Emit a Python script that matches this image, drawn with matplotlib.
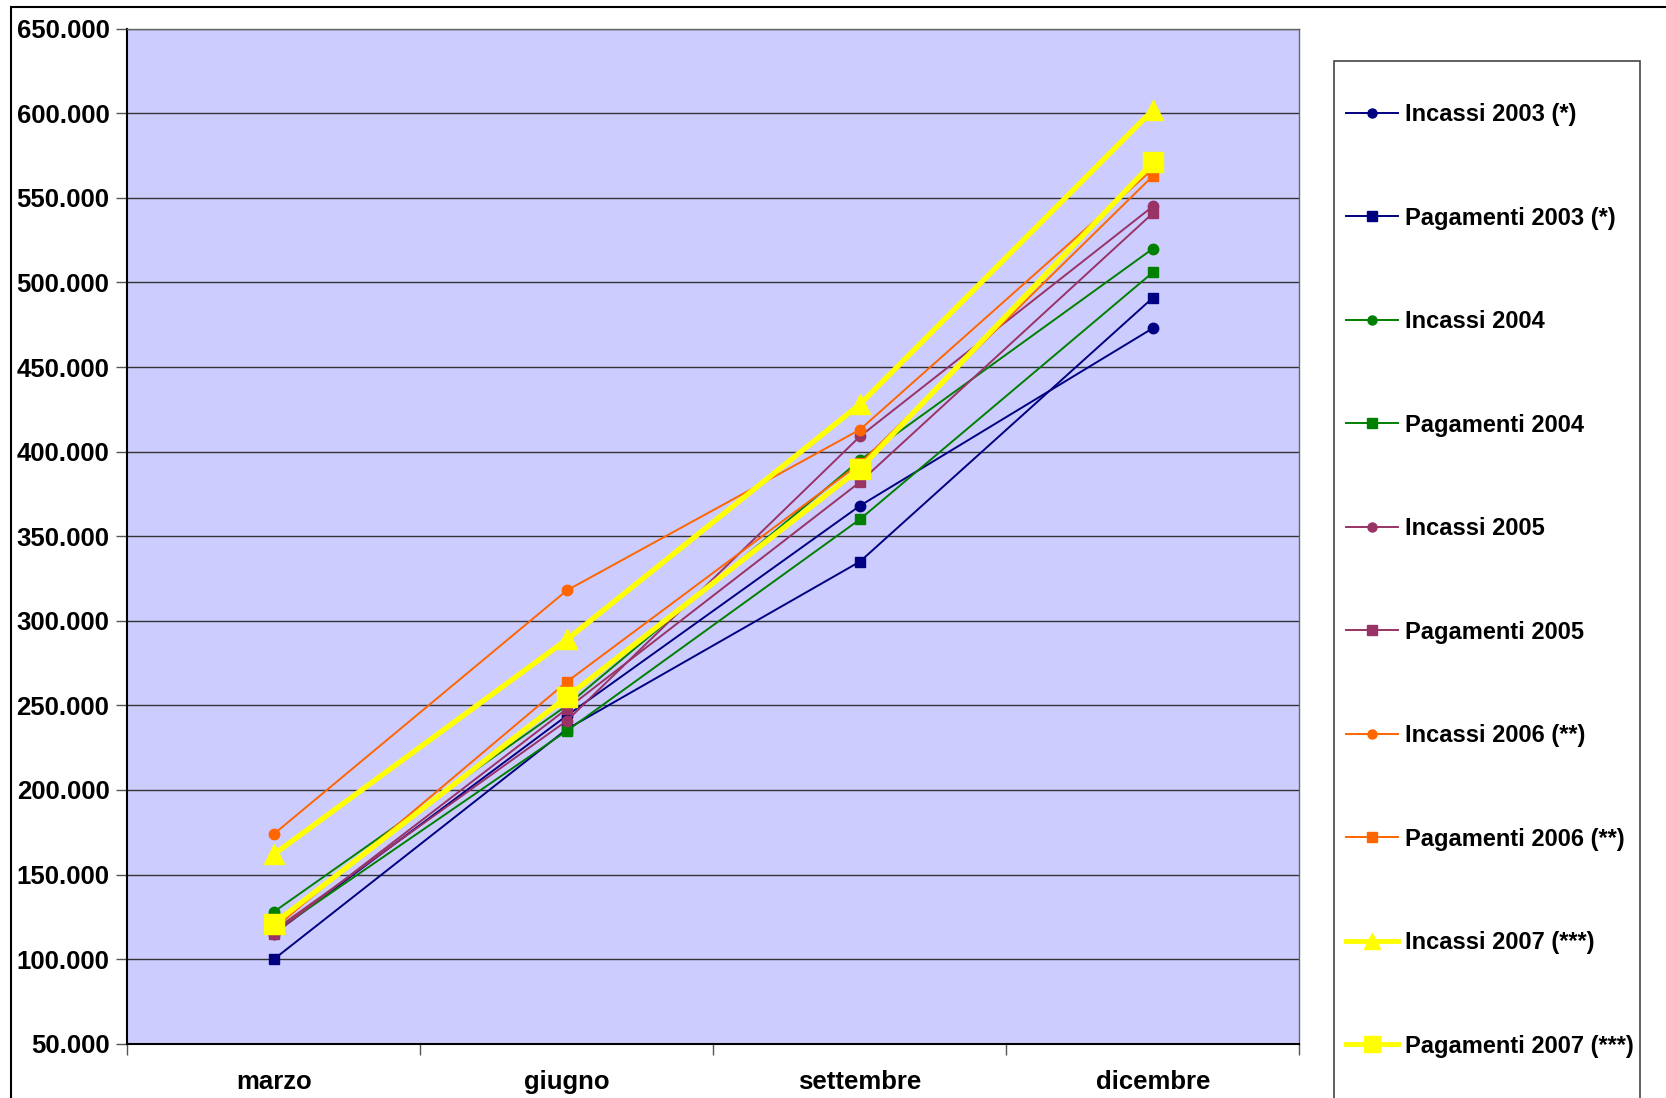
import matplotlib
matplotlib.use("Agg")
import matplotlib.pyplot as plt
from matplotlib.ticker import FuncFormatter, FixedLocator
from matplotlib.patches import Rectangle

plt.rcParams['font.family'] = ['Liberation Sans', 'DejaVu Sans']

months = ["marzo", "giugno", "settembre", "dicembre"]

incassi_2003 = [115000, 244000, 368000, 473000]
pagamenti_2003 = [100000, 236000, 335000, 491000]
incassi_2004 = [128000, 250000, 395000, 520000]
pagamenti_2004 = [116000, 235000, 360000, 506000]
incassi_2005 = [117000, 241000, 409000, 545000]
pagamenti_2005 = [115000, 248000, 382000, 541000]
incassi_2006 = [174000, 318000, 413000, 567000]
pagamenti_2006 = [118000, 264000, 393000, 563000]
incassi_2007 = [162000, 289000, 428000, 602000]
pagamenti_2007 = [121000, 255000, 390000, 571000]

series = [
    ("Incassi 2003 (*)", incassi_2003, "#000080", "o"),
    ("Pagamenti 2003 (*)", pagamenti_2003, "#000080", "s"),
    ("Incassi 2004", incassi_2004, "#008000", "o"),
    ("Pagamenti 2004", pagamenti_2004, "#008000", "s"),
    ("Incassi 2005", incassi_2005, "#993366", "o"),
    ("Pagamenti 2005", pagamenti_2005, "#993366", "s"),
    ("Incassi 2006 (**)", incassi_2006, "#FF6600", "o"),
    ("Pagamenti 2006 (**)", pagamenti_2006, "#FF6600", "s"),
    ("Incassi 2007 (***)", incassi_2007, "#FFFF00", "^"),
    ("Pagamenti 2007 (***)", pagamenti_2007, "#FFFF00", "s"),
]

W, H = 1666, 1098
fig = plt.figure(figsize=(W / 100, H / 100), dpi=100)
fig.patch.set_facecolor("white")

# outer chart border
fig.patches.append(Rectangle((11 / W, -0.1), 1.2, 1 - 7 / H + 0.1,
                             transform=fig.transFigure, fill=False,
                             edgecolor="black", linewidth=1.5, zorder=0))

ax = fig.add_axes([0.0765, 0.0494, 0.780 - 0.0765, 0.9739 - 0.0494])
ax.set_facecolor("#CCCCFF")

x = list(range(len(months)))
handles = []
for label, vals, color, marker in series:
    big = color == "#FFFF00"
    h, = ax.plot(x, vals, color=color, marker=marker,
                 linewidth=3.8 if big else 1.4,
                 markersize=14 if big else 7.5,
                 markeredgecolor=color, markerfacecolor=color,
                 label=label, clip_on=False, zorder=3)
    handles.append(h)

ax.set_xlim(-0.5, 3.5)
ax.set_ylim(50000, 650000)
ax.set_yticks(range(50000, 650001, 50000))
ax.yaxis.set_major_formatter(FuncFormatter(lambda v, p: f"{int(v):,}".replace(",", ".")))
ax.set_xticks(x)
ax.set_xticklabels(months)
ax.xaxis.set_minor_locator(FixedLocator([-0.5, 0.5, 1.5, 2.5, 3.5]))
ax.tick_params(axis="x", which="major", length=0, pad=19)
ax.tick_params(axis="x", which="minor", length=8, width=1, direction="out", color="#555555")
ax.tick_params(axis="y", which="major", length=8, width=1, direction="out", pad=5, color="#555555")
for lab in ax.get_xticklabels() + ax.get_yticklabels():
    lab.set_fontsize(18.5)
    lab.set_fontweight("bold")

ax.yaxis.grid(True, color="#333333", linewidth=1.0)
ax.set_axisbelow(True)
for side in ["left", "bottom"]:
    ax.spines[side].set_color("black")
    ax.spines[side].set_linewidth(1.5)
for side in ["top", "right"]:
    ax.spines[side].set_color("#666666")
    ax.spines[side].set_linewidth(1.0)

# legend frame
fig.patches.append(Rectangle((1334 / W, -0.1), (1640 - 1334) / W, 1 - 61 / H + 0.1,
                             transform=fig.transFigure, fill=True, facecolor="white",
                             edgecolor="#444444", linewidth=1.2, zorder=1))

leg = fig.legend(handles=handles, loc="upper left",
                 bbox_to_anchor=(1346 / W, 1 - 103 / H),
                 frameon=False, prop={"weight": "bold", "size": 17},
                 handlelength=2.2, handletextpad=0.3, labelspacing=3.41,
                 borderaxespad=0, borderpad=0)
for lh in leg.legend_handles:
    if lh.get_color() == "#FFFF00":
        lh.set_linewidth(3.5)
        lh.set_markersize(11)
    else:
        lh.set_linewidth(1.4)
        lh.set_markersize(6.5)
leg.set_zorder(5)

fig.savefig("out.png", dpi=100)
